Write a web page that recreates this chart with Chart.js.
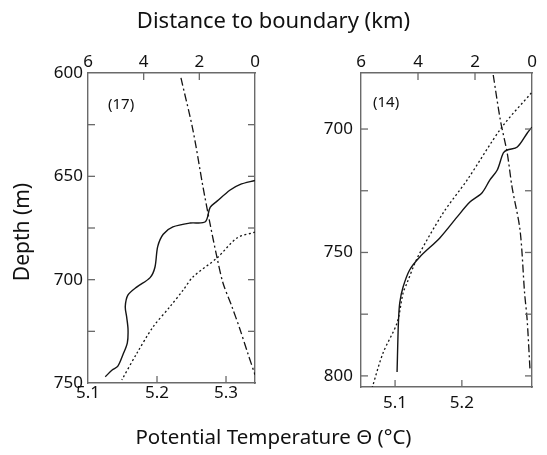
<!DOCTYPE html>
<html>
<head>
<meta charset="utf-8">
<script src="https://cdn.jsdelivr.net/npm/chart.js@4"></script>
<style>
  body { margin: 0; background: #fff; }
  #wrap { position: relative; width: 547px; height: 455px; font-family: "Noto Sans", sans-serif; color: #111; }
  canvas { position: absolute; left: 0; top: 0; }
  .lbl { position: absolute; white-space: nowrap; }
</style>
</head>
<body>
<div id="wrap">
  <canvas id="c17" width="547" height="455"></canvas>
  <canvas id="c14" width="547" height="455"></canvas>
  <div class="lbl" style="left:0;width:547px;text-align:center;top:4px;font-size:22px">Distance to boundary (km)</div>
  <div class="lbl" style="left:0;width:547px;text-align:center;top:422px;font-size:20.5px">Potential Temperature Θ (°C)</div>
  <div class="lbl" style="left:-34px;top:218px;width:110px;text-align:center;font-size:21px;transform:rotate(-90deg)">Depth (m)</div>
  <div class="lbl" style="left:108px;top:93px;font-size:15px">(17)</div>
  <div class="lbl" style="left:373px;top:91px;font-size:15px">(14)</div>
</div>
<script>
// panel (17)
const depthSolid17 = [652, 654, 656.6, 662, 665, 672, 672.6, 674.5, 678, 684, 694, 699, 703.5, 707.4, 713, 718, 724, 730.6, 736, 742, 743.7, 747];
const tempSolid17  = [5.342, 5.320, 5.306, 5.287, 5.277, 5.270, 5.248, 5.223, 5.209, 5.201, 5.197, 5.190, 5.171, 5.158, 5.154, 5.156, 5.158, 5.157, 5.151, 5.143, 5.135, 5.125];
const depthDot17 = [677, 679.8, 689.5, 698.7, 705, 713, 723, 735.5, 748.5];
const tempDot17  = [5.342, 5.316, 5.287, 5.252, 5.238, 5.219, 5.194, 5.171, 5.149];
const depthDash17 = [602.4, 627.6, 655, 672.6, 689, 701.6, 713, 724, 736, 746];
const distDash17  = [2.66, 2.23, 1.87, 1.62, 1.37, 1.15, 0.83, 0.54, 0.25, 0];
const depthTicks17  = [600, 625, 650, 675, 700, 725, 750];
const depthLabels17 = ['600', '', '650', '', '700', '', '750'];
const tempTicks17 = [5.1, 5.2, 5.3];

// panel (14)
const depthSolid14 = [699.2, 701.6, 707.3, 708.5, 709.7, 716.6, 720.6, 725.9, 729.6, 735.6, 744.1, 751.8, 757, 764, 770.4, 778.5, 798.4];
const tempSolid14  = [5.305, 5.298, 5.283, 5.268, 5.262, 5.253, 5.242, 5.230, 5.212, 5.193, 5.167, 5.137, 5.122, 5.112, 5.107, 5.105, 5.103];
const depthDot14 = [685.4, 699.2, 720.6, 734, 751.8, 762.3, 766.4, 778.5, 790.7, 804.5];
const tempDot14  = [5.304, 5.260, 5.208, 5.172, 5.134, 5.118, 5.112, 5.103, 5.082, 5.066];
const depthDash14 = [678.1, 696.4, 709.7, 723.5, 740.9, 766.4, 777.3, 797.6];
const distDash14  = [1.36, 1.11, 0.87, 0.70, 0.42, 0.26, 0.17, 0.07];
const depthTicks14  = [700, 725, 750, 775, 800];
const depthLabels14 = ['700', '', '750', '', '800'];
const tempTicks14 = [5.1, 5.2];

const distTicks = [0, 2, 4, 6];

const frameColor = '#6a6a6a';
const lineColor = '#141414';
const tickFont = { family: 'Noto Sans', size: 17 };

const pts = (xs, ys) => xs.map((x, i) => ({ x, y: ys[i] }));
const fixTicks = vals => s => { s.ticks = vals.map(v => ({ value: v })); };

const inwardTicks = {
  id: 'inwardTicks',
  afterDraw(chart) {
    const { ctx, chartArea: a } = chart;
    ctx.save();
    ctx.strokeStyle = frameColor;
    ctx.lineWidth = 1.3;
    Object.values(chart.scales).forEach(s => {
      s.ticks.forEach(t => {
        const p = s.getPixelForValue(t.value);
        const horiz = s.position === 'top' || s.position === 'bottom';
        if (horiz && (p <= a.left + 2 || p >= a.right - 2)) return;
        if (!horiz && (p <= a.top + 2 || p >= a.bottom - 2)) return;
        ctx.beginPath();
        if (s.position === 'left')   { ctx.moveTo(a.left, p);   ctx.lineTo(a.left + 7, p); }
        if (s.position === 'right')  { ctx.moveTo(a.right, p);  ctx.lineTo(a.right - 7, p); }
        if (s.position === 'top')    { ctx.moveTo(p, a.top);    ctx.lineTo(p, a.top + 7); }
        if (s.position === 'bottom') { ctx.moveTo(p, a.bottom); ctx.lineTo(p, a.bottom - 7); }
        ctx.stroke();
      });
    });
    ctx.restore();
  }
};

function panel(id, o) {
  const border = { display: true, color: frameColor, width: 1.4 };
  const grid = { display: true, drawOnChartArea: false, drawTicks: false };
  const line = { showLine: true, pointRadius: 0, borderColor: lineColor, borderWidth: 1.4, tension: 0.3, fill: false };
  new Chart(document.getElementById(id), {
    type: 'scatter',
    data: {
      datasets: [
        { ...line, data: pts(o.tempSolid, o.depthSolid), xAxisID: 'x', yAxisID: 'y' },
        { ...line, data: pts(o.tempDot, o.depthDot), xAxisID: 'x', yAxisID: 'y', borderDash: [2, 2.5], borderWidth: 1.3 },
        { ...line, data: pts(o.distDash, o.depthDash), xAxisID: 'xTop', yAxisID: 'y', borderDash: [8, 3, 2, 3], borderWidth: 1.3 },
      ],
    },
    options: {
      responsive: false,
      animation: false,
      layout: { padding: o.pad },
      plugins: { legend: { display: false }, tooltip: { enabled: false } },
      scales: {
        x: {
          position: 'bottom', min: o.tMin, max: o.tMax, border, grid,
          afterBuildTicks: fixTicks(o.tempTicks),
          afterFit: s => { s.height = 32; },
          ticks: { color: '#111', font: tickFont, padding: o.bottomPad, maxRotation: 0, callback: v => v.toFixed(1) },
        },
        xTop: {
          position: 'top', reverse: true, min: 0, max: 6, border, grid,
          afterBuildTicks: fixTicks(distTicks),
          afterFit: s => { s.height = 33; },
          ticks: { color: '#111', font: tickFont, padding: 1, maxRotation: 0 },
        },
        y: {
          position: 'left', reverse: true, min: o.dMin, max: o.dMax, border, grid,
          afterBuildTicks: fixTicks(o.depthTicks),
          afterFit: s => { s.width = o.yWidth; },
          ticks: { color: '#111', font: tickFont, padding: o.leftPad, callback: (v, i) => o.depthLabels[i] },
        },
        y2: {
          position: 'right', reverse: true, min: o.dMin, max: o.dMax, border, grid,
          afterBuildTicks: fixTicks(o.depthTicks),
          afterFit: s => { s.width = 0; },
          ticks: { display: false },
        },
      },
    },
    plugins: [inwardTicks],
  });
}

panel('c17', {
  tempSolid: tempSolid17, depthSolid: depthSolid17, tempDot: tempDot17, depthDot: depthDot17,
  distDash: distDash17, depthDash: depthDash17, depthTicks: depthTicks17, depthLabels: depthLabels17, tempTicks: tempTicks17,
  tMin: 5.1, tMax: 5.342, dMin: 600, dMax: 750,
  pad: { left: 40, right: 292, top: 40, bottom: 40 }, yWidth: 48, leftPad: 5, bottomPad: 0,
});

panel('c14', {
  tempSolid: tempSolid14, depthSolid: depthSolid14, tempDot: tempDot14, depthDot: depthDot14,
  distDash: distDash14, depthDash: depthDash14, depthTicks: depthTicks14, depthLabels: depthLabels14, tempTicks: tempTicks14,
  tMin: 5.049, tMax: 5.305, dMin: 677.3, dMax: 804.5,
  pad: { left: 300, right: 15, top: 40, bottom: 36 }, yWidth: 61, leftPad: 8, bottomPad: 6,
});
</script>
</body>
</html>
